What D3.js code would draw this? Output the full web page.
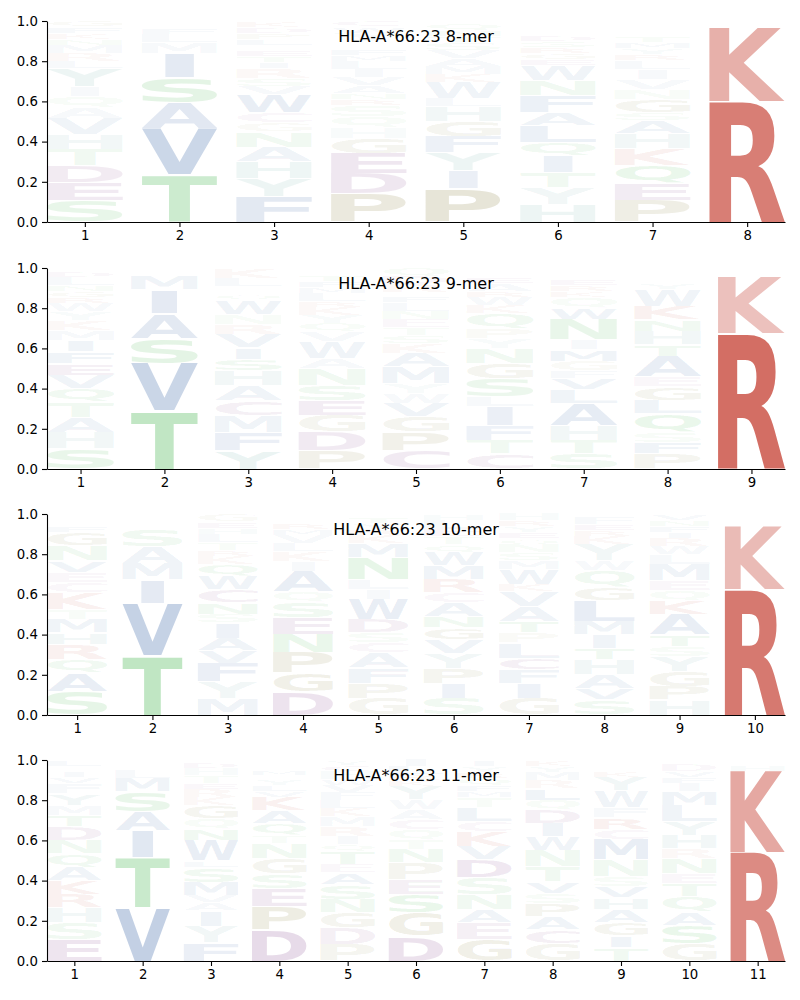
<!DOCTYPE html>
<html>
<head>
<meta charset="utf-8">
<script src="https://cdn.jsdelivr.net/npm/d3@7"></script>
<style>
html,body{margin:0;padding:0;background:#fff;}
svg text{font-family:"DejaVu Sans",sans-serif;}
</style>
</head>
<body>
<svg id="chart" width="800" height="1000"></svg>
<script>
// ---------------- DATA (letters bottom -> top, heights = frequency) ----------------
const titles = ["HLA-A*66:23 8-mer","HLA-A*66:23 9-mer","HLA-A*66:23 10-mer","HLA-A*66:23 11-mer"];
const yTicks = [0,0.2,0.4,0.6,0.8,1.0];

const letters8 = ["SEDTHVAQIYLRMNKFG","TVASIMLFQN","FYHANGCWVSRITEQLPDK","PDEGHQSRNAVILMFTKYWC",
  "PIYFGHLWKMAVSTNQE","HYTIQLAFNWEGRSDMPK","PEQKHASGNVILRYMTFDWC","RKHQ"];
const heights8 = [
  [.105,.09,.085,.08,.075,.08,.055,.055,.05,.09,.035,.04,.04,.03,.03,.03,.03],
  [.235,.23,.13,.125,.12,.055,.04,.03,.02,.015],
  [.125,.09,.083,.075,.075,.045,.05,.09,.04,.04,.05,.03,.03,.03,.025,.03,.03,.03,.032],
  [.14,.1,.1,.075,.055,.055,.055,.03,.03,.04,.04,.04,.04,.03,.03,.02,.02,.04,.03,.03],
  [.165,.09,.09,.08,.075,.075,.04,.08,.04,.04,.04,.04,.04,.03,.03,.035,.01],
  [.088,.083,.075,.083,.066,.083,.066,.083,.075,.075,.03,.03,.03,.03,.03,.025,.025,.023],
  [.108,.083,.09,.083,.075,.066,.04,.066,.05,.05,.05,.04,.03,.03,.03,.03,.02,.02,.02,.019],
  [.6,.37,.015,.015]
];

const letters9 = ["SHATQVEFIMKYWRGNLDP","TVSAIMLQ","YFMCAHSIVRNWQEPLK","PDGESNAWVQYKRLMFTIH",
  "CPGVWYMAKSTENLFHRDQ","CTFILSGNYPQKWRAEDM","STHALVFGMINWQKREYP","PFSQLGEATHNKWYMRDI","RKHQ"];
const heights9 = [
  [.1,.083,.075,.075,.067,.067,.058,.058,.058,.05,.05,.042,.04,.03,.03,.03,.04,.03,.017],
  [.29,.235,.125,.125,.117,.067,.025,.016],
  [.09,.09,.083,.075,.075,.075,.058,.058,.067,.05,.05,.067,.03,.02,.02,.04,.05],
  [.092,.092,.083,.075,.075,.083,.05,.083,.05,.04,.04,.04,.03,.04,.03,.03,.03,.02,.017],
  [.092,.092,.075,.067,.05,.05,.083,.067,.05,.04,.04,.04,.04,.04,.03,.02,.04,.04,.04],
  [.075,.067,.075,.092,.05,.09,.075,.075,.05,.05,.075,.04,.04,.03,.04,.03,.02,.02],
  [.075,.067,.075,.11,.067,.058,.035,.05,.058,.05,.1,.058,.05,.03,.03,.03,.025,.025],
  [.075,.058,.05,.092,.067,.067,.05,.1,.058,.067,.058,.067,.083,.03,.02,.02,.02,.018],
  [.675,.285,.02,.02]
];

const letters10 = ["SAQRHMTKCEVNGFILD","TVIMASLFQ","MYFVAISNCWQKRTLHEG","DGPNESQAIKLVMRTY",
  "GPFACSDWILNMKRYTV","SIPYVGNACRMWQTELH","GIFCLPTAVKWMSNQEYRH","SVAHTIMLGQWYKREFN",
  "HPGYSTAKQEMLWRIFNV","RKYHQ"];
const heights10 = [
  [.117,.092,.067,.075,.058,.067,.05,.083,.05,.05,.058,.075,.067,.03,.02,.02,.021],
  [.295,.26,.117,.083,.083,.083,.025,.02,.02],
  [.083,.083,.092,.06,.065,.075,.042,.058,.067,.067,.058,.04,.03,.04,.04,.03,.03,.04],
  [.117,.092,.1,.092,.083,.08,.05,.1,.05,.05,.04,.04,.03,.03,.025,.021],
  [.083,.075,.075,.075,.05,.05,.067,.1,.05,.05,.11,.067,.04,.03,.03,.03,.02],
  [.083,.075,.075,.075,.067,.058,.058,.067,.05,.067,.067,.067,.04,.04,.04,.04,.03],
  [.083,.075,.067,.058,.075,.05,.058,.075,.075,.035,.075,.04,.04,.04,.03,.03,.03,.03,.034],
  [.075,.058,.067,.075,.058,.067,.067,.1,.067,.083,.05,.083,.04,.03,.03,.037,.013],
  [.075,.067,.075,.075,.05,.058,.1,.067,.05,.05,.083,.05,.04,.04,.03,.03,.03,.03],
  [.625,.317,.02,.02,.018]
];

const letters11 = ["ESHRKAQNDTMYFVIWL","VTIASMLFQ","FYIAVMSLWNQGKRETHD","DPESGNTQAKVLYRMFI",
  "PDGNSAETQIRMKLFVWHCY","DGSEPNTQCAWYKRLI","GEANSDVKCLTMFQRYI","GCAPSVTNWIDQLRMYK",
  "TIGAHVSNMCRFWYKELQ","GSAQTENRHYLMIFVDK","RKHY"];
const heights11 = [
  [.108,.083,.075,.067,.067,.067,.067,.067,.067,.058,.05,.058,.05,.03,.03,.025,.031],
  [.265,.25,.133,.096,.1,.066,.04,.025,.025],
  [.09,.083,.078,.04,.035,.066,.075,.033,.1,.058,.05,.066,.04,.04,.03,.04,.035,.03],
  [.154,.116,.09,.075,.075,.075,.04,.058,.066,.066,.03,.03,.03,.02,.026,.025,.024],
  [.083,.083,.075,.066,.075,.058,.04,.066,.033,.04,.05,.05,.04,.04,.04,.035,.03,.04,.03,.026],
  [.124,.116,.09,.075,.083,.066,.05,.05,.05,.05,.05,.066,.03,.03,.04,.034],
  [.108,.083,.066,.075,.083,.09,.066,.075,.05,.066,.05,.03,.03,.035,.033,.03,.03],
  [.088,.066,.066,.066,.05,.058,.075,.083,.066,.066,.066,.05,.058,.04,.04,.03,.032],
  [.066,.058,.066,.066,.058,.058,.05,.083,.1,.05,.058,.05,.083,.066,.03,.02,.02,.018],
  [.088,.09,.066,.075,.066,.05,.075,.05,.066,.066,.083,.066,.04,.03,.03,.036,.023],
  [.54,.405,.03,.025]
];

// colour groups
const groupColors = {
  basic:"rgb(190,40,25)", hydrophobic:"rgb(30,80,155)", polar:"rgb(40,170,50)",
  acidic:"rgb(100,20,110)", special:"rgb(110,100,20)", aromatic:"rgb(50,140,130)"
};
const aaGroup = {K:"basic",R:"basic",A:"hydrophobic",V:"hydrophobic",I:"hydrophobic",L:"hydrophobic",
  M:"hydrophobic",F:"hydrophobic",W:"hydrophobic",S:"polar",T:"polar",N:"polar",Q:"polar",
  D:"acidic",E:"acidic",C:"acidic",P:"special",G:"special",H:"aromatic",Y:"aromatic"};

const panelData = [
  {title:titles[0], letters:letters8, heights:heights8},
  {title:titles[1], letters:letters9, heights:heights9},
  {title:titles[2], letters:letters10, heights:heights10},
  {title:titles[3], letters:letters11, heights:heights11}
];

// ---------------- LAYOUT ----------------
const svg = d3.select("#chart");
const left = 47, right = 785, axH = 201;
const tops = [21, 268, 514, 760];
const FONT = "bold 100px 'DejaVu Sans'";

// glyph ink metrics
const cnv = document.createElement("canvas");
const ctx = cnv.getContext("2d");
ctx.font = FONT;
const metrics = {};
"ACDEFGHIKLMNPQRSTVWY".split("").forEach(ch => {
  const m = ctx.measureText(ch);
  metrics[ch] = {l:m.actualBoundingBoxLeft, r:m.actualBoundingBoxRight,
                 a:m.actualBoundingBoxAscent, d:m.actualBoundingBoxDescent};
});
const iW = metrics.I.l + metrics.I.r;
const refW = iW / 0.38; // narrow glyphs (I) keep proportion

panelData.forEach((p, pi) => {
  const n = p.letters.length;
  const top = tops[pi];
  const x = d3.scaleLinear().domain([0.6, n + 0.4]).range([left, right]);
  const y = d3.scaleLinear().domain([0, 1]).range([top + axH, top]);
  const g = svg.append("g");
  const unit = x(2) - x(1);
  const boxW = 0.8 * unit;

  p.letters.forEach((str, ci) => {
    const pos = ci + 1;
    let cum = 0;
    str.split("").forEach((ch, k) => {
      const h = p.heights[ci][k];
      const y0 = y(cum + h), y1 = y(cum);
      cum += h;
      const m = metrics[ch];
      const inkW = m.l + m.r, inkH = m.a + m.d;
      const sx = Math.min(boxW / inkW, boxW / refW);
      const w = inkW * sx;
      const bx = x(pos) - w / 2;
      const by = y0 + 0.5;
      const bh = Math.max(0.1, (y1 - y0) - 1);
      const sy = bh / inkH;
      g.append("text")
        .attr("transform", `translate(${bx},${by}) scale(${sx},${sy}) translate(${m.l},${m.a})`)
        .attr("font-size", 100)
        .attr("font-weight", "bold")
        .attr("fill", groupColors[aaGroup[ch]])
        .attr("fill-opacity", Math.min(1, h))
        .text(ch);
    });
  });

  // axes
  const ax = d3.axisBottom(x).tickValues(d3.range(1, n + 1)).tickFormat(d3.format("d"))
    .tickSize(5).tickSizeOuter(0).tickPadding(4);
  const gx = svg.append("g").attr("transform", `translate(0,${top + axH})`).call(ax);
  const ay = d3.axisLeft(y).tickValues(yTicks).tickFormat(d3.format(".1f"))
    .tickSize(5).tickSizeOuter(0).tickPadding(4);
  const gy = svg.append("g").attr("transform", `translate(${left},0)`).call(ay);
  [gx, gy].forEach(a => {
    a.selectAll("text").attr("font-size", "13.3px").attr("fill", "#000")
      .style("font-family", "'DejaVu Sans', sans-serif");
    a.selectAll("line").attr("stroke", "#000").attr("stroke-width", 1.1);
    a.select(".domain").attr("stroke", "#000").attr("stroke-width", 1.1);
  });

  svg.append("text")
    .attr("x", (left + right) / 2).attr("y", top + 21)
    .attr("text-anchor", "middle").attr("font-size", "16px").attr("fill", "#000")
    .text(p.title);
});
</script>
</body>
</html>
